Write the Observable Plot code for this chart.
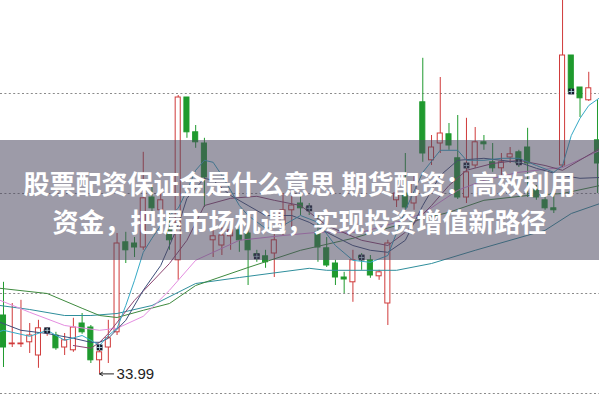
<!DOCTYPE html>
<html>
<head>
<meta charset="utf-8">
<script src="https://cdn.jsdelivr.net/npm/d3@7"></script>
<script src="https://cdn.jsdelivr.net/npm/@observablehq/plot@0.6"></script>
<style>
  html, body { margin: 0; padding: 0; background: #fff; }
  #wrap { position: relative; width: 599px; height: 400px; overflow: hidden; }
  #banner { position: absolute; left: 0; top: 140px; width: 599px; height: 120px; background: rgba(76, 72, 96, 0.55); }
  .line { position: absolute; left: 0; width: 599px; text-align: center; color: #fff;
          font: 700 26px/37px "Noto Sans CJK SC", sans-serif; white-space: nowrap; }
</style>
</head>
<body>
<div id="wrap">
  <div id="chart"></div>
  <div id="banner">
    <div class="line" style="top:23.5px">股票配资保证金是什么意思 期货配资：高效利用</div>
    <div class="line" style="top:61.5px">资金，把握市场机遇，实现投资增值新路径</div>
  </div>
</div>
<script>
// Daily candles, one entry per trading session (index 0 = leftmost)
const opens = [35.45, 34.73, 34.73, 34.78, 34.45, 35.05, 34.95, 34.65, 34.58, 35.25,
  35.15, 34.33, 34.65, 35.03, 37.28, 37.25, 37.15, 38.40, 38.08, 37.58,
  36.83, 40.90, 40.03, 39.75, 37.33, 37.20, 37.43, 37.58, 37.50, 36.98,
  36.93, 37.00, 37.70, 38.08, 38.25, 38.15, 37.53, 37.13, 36.75, 36.40,
  36.28, 36.93, 36.83, 36.43, 35.75, 38.33, 38.50, 38.25, 40.78, 39.33,
  39.75, 39.98, 39.38, 38.40, 39.20, 39.78, 39.28, 39.13, 39.40, 39.53,
  39.65, 38.58, 38.33, 38.13, 39.20, 41.95, 41.15, 40.83, 39.83];
const closes = [34.65, 34.75, 34.75, 34.95, 35.13, 35.08, 34.63, 34.83, 35.15, 35.03,
  34.33, 34.53, 34.88, 37.25, 37.08, 37.15, 38.38, 38.13, 38.33, 37.33,
  40.90, 40.03, 39.78, 38.90, 37.43, 37.45, 37.58, 37.33, 37.08, 36.93,
  36.78, 37.33, 38.08, 38.20, 38.13, 38.10, 37.15, 36.70, 36.40, 36.35,
  36.83, 36.88, 36.45, 36.53, 37.25, 38.50, 38.15, 38.75, 39.50, 39.65,
  40.00, 39.70, 38.40, 39.03, 39.78, 39.73, 39.13, 39.28, 39.48, 39.25,
  39.25, 38.40, 38.13, 38.08, 41.95, 41.03, 40.88, 41.13, 39.25];
const highs = [36.28, 35.75, 35.83, 35.25, 35.33, 35.15, 35.03, 35.00, 35.38, 35.50,
  35.20, 34.70, 35.33, 37.50, 37.53, 37.40, 39.53, 38.70, 38.58, 38.00,
  40.95, 40.90, 40.20, 39.88, 37.83, 37.65, 37.65, 37.78, 37.65, 37.08,
  37.08, 37.53, 38.50, 38.50, 38.45, 38.25, 38.00, 37.40, 36.83, 36.53,
  37.08, 37.00, 36.95, 36.58, 37.33, 38.65, 39.50, 39.00, 41.88, 39.95,
  41.40, 40.25, 40.45, 40.38, 40.15, 39.95, 39.75, 39.50, 39.65, 39.58,
  40.13, 38.70, 38.50, 38.50, 43.90, 41.95, 41.15, 41.53, 40.83];
const lows = [34.15, 34.65, 34.65, 34.50, 34.13, 34.93, 34.58, 34.45, 34.53, 34.98,
  34.25, 33.99, 34.25, 34.95, 36.75, 36.90, 37.08, 38.03, 37.70, 37.08,
  36.33, 39.88, 39.63, 38.15, 36.90, 36.95, 37.08, 37.03, 36.20, 36.78,
  36.63, 36.40, 37.45, 37.65, 37.95, 37.95, 36.78, 36.65, 36.20, 36.00,
  35.78, 36.58, 36.38, 36.33, 35.20, 38.15, 38.08, 38.08, 39.28, 39.20,
  39.50, 39.58, 38.35, 38.25, 39.13, 39.58, 39.03, 38.95, 39.25, 39.15,
  38.40, 38.33, 38.08, 38.00, 39.15, 41.00, 40.40, 40.80, 38.50];

// Moving-average curves as [session index, price]
const maCyan = [[-0.4, 35.05], [0, 35.08], [3, 34.93], [5, 35.08], [7, 34.83], [9, 34.95], [10, 34.83],
  [11, 34.70], [12, 34.95], [13, 35.13], [14, 35.70], [15, 36.33], [16, 37.03], [17, 37.38], [18, 37.70],
  [19, 37.95], [20, 38.13], [21, 38.58], [22, 39.08], [23, 39.33], [24, 39.28], [25, 38.95], [26, 38.58],
  [27, 38.20], [28, 37.95], [30, 37.63], [32, 37.70], [34, 37.95], [36, 37.78], [38, 37.20], [40, 36.83],
  [42, 36.78], [44, 36.95], [46, 38.08], [48, 39.03], [50, 39.58], [52, 39.58], [53, 39.33], [55, 39.33],
  [57, 39.38], [59, 39.38], [61, 39.20], [63, 39.03], [64, 39.20], [65, 39.95], [66, 40.38], [67, 40.70],
  [68.3, 40.90]];
const maNavy = [[-0.4, 35.28], [2, 35.08], [5, 35.00], [8, 34.88], [10, 34.78], [11, 34.78], [12, 34.88],
  [14, 35.33], [16, 36.08], [18, 36.70], [20, 37.70], [21, 38.38], [23, 38.88], [24, 38.83], [26, 38.45],
  [28, 38.20], [30, 37.95], [33, 37.95], [35, 37.78], [37, 37.53], [40, 37.20], [42, 37.08], [44, 37.03],
  [46, 37.33], [48, 38.20], [50, 38.95], [52, 39.33], [55, 39.38], [57, 39.33], [59, 39.28], [61, 39.13],
  [64, 38.95], [66, 38.88], [68.3, 38.90]];
const maPink = [[-0.4, 35.83], [3, 35.53], [7, 35.20], [11, 35.08], [13, 35.13], [16, 35.43], [19, 36.08],
  [22, 36.83], [27, 37.33], [32, 37.45], [36, 37.53], [41, 37.53], [45, 37.78], [48, 38.00], [52, 38.58],
  [55, 38.83], [59, 39.03], [63, 39.13], [64, 39.15], [68.3, 39.58]];
const maMaroon = [[8, 34.70], [10, 34.63], [11, 34.78], [12, 35.00], [15, 35.83], [19, 36.75], [21, 37.33],
  [23, 38.20], [26, 38.38], [29, 38.43], [31, 38.33], [34, 38.20], [37, 37.70], [41, 37.33], [44, 37.20],
  [46, 37.53], [49, 38.20], [51, 38.70], [53, 39.08], [56, 39.25], [59, 39.33], [62, 39.20], [64, 39.08],
  [68.3, 39.63]];
const maGreen = [[-0.4, 36.13], [5, 36.00], [9, 35.63], [11, 35.45], [13, 35.40], [16, 35.58], [19, 35.75],
  [22, 36.20], [28, 36.65], [34, 37.08], [40, 37.38], [45, 37.70], [51, 38.03], [55, 38.33], [60, 38.45],
  [64, 38.50], [68.3, 38.70]];
const maTeal = [[-0.4, 35.70], [3, 35.60], [7, 35.45], [10, 35.45], [13, 35.50], [17, 35.70], [22, 36.25],
  [27, 36.40], [35, 36.63], [37, 36.58], [45, 36.58], [49, 36.75], [54, 37.08], [62, 37.58], [65, 38.00],
  [68.3, 38.25]];

// Cross signals marked on the chart, [session index, price]
const signals = [[5, 35.08], [11, 34.65], [29, 36.93], [35, 38.13], [41, 36.90], [53, 39.20], [59, 39.28], [65, 41.05]];

// Horizontal reference levels
const gridPrices = [33.5, 36.0, 38.5, 41.0];

const upColor = "#d03a3a";
const downColor = "#1f9a2e";
const bodyHalf = 0.29;

const candles = opens.map((o, i) => ({ i, open: o, close: closes[i], high: highs[i], low: lows[i], up: closes[i] >= o }));

// Session with the lowest low gets the price callout
const lowIdx = d3.minIndex(lows);
const lowMark = [{ i: lowIdx, price: lows[lowIdx] }];

const maLine = (pts, color) => Plot.line(pts, { x: d => d[0], y: d => d[1], stroke: color, strokeWidth: 1, clip: true });

const chart = Plot.plot({
  width: 599,
  height: 400,
  margin: 0,
  x: { axis: null, domain: [-0.3434, 68.23] },
  y: { axis: null, domain: [33.325, 43.325] },
  style: { background: "#fff" },
  marks: [
    Plot.ruleY(gridPrices, { stroke: "#8a8a8a", strokeDasharray: "2,2.4", strokeWidth: 1 }),
    Plot.ruleX(candles, { x: "i", y1: "low", y2: "high", stroke: d => d.up ? upColor : downColor, strokeWidth: 1, clip: true }),
    Plot.rect(candles, {
      x1: d => d.i - bodyHalf, x2: d => d.i + bodyHalf, y1: "open", y2: "close",
      fill: d => d.up ? "#fff" : downColor, stroke: d => d.up ? upColor : downColor, strokeWidth: 1, clip: true
    }),
    maLine(maTeal, "#2f8e9c"),
    maLine(maGreen, "#3e8a3e"),
    maLine(maPink, "#e48de0"),
    maLine(maMaroon, "#8e4672"),
    maLine(maNavy, "#3d4f7a"),
    maLine(maCyan, "#35a9c6"),
    Plot.dot(signals, { x: d => d[0], y: d => d[1], symbol: "square", r: 3.3, fill: "#121a2c" }),
    Plot.dot(signals, { x: d => d[0], y: d => d[1], symbol: "plus", r: 1.8, stroke: "#bfe6ee", strokeWidth: 0.8 }),
    Plot.arrow(lowMark, { x1: d => d.i + 1.6, y1: "price", x2: "i", y2: "price", stroke: "#222", strokeWidth: 1, headLength: 5 }),
    Plot.text(lowMark, { x: "i", y: "price", dx: 17, text: d => d.price.toFixed(2), textAnchor: "start",
      fontSize: 15, fill: "#222", fontFamily: "Liberation Sans, Arial, sans-serif" })
  ]
});
document.getElementById("chart").appendChild(chart);
</script>
</body>
</html>
